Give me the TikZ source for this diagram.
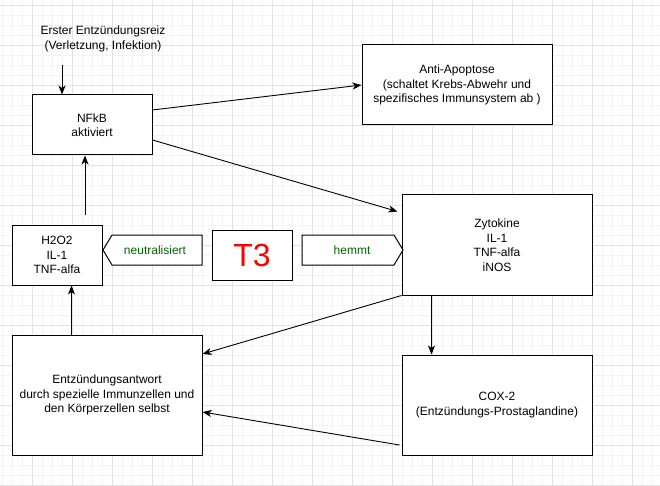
\documentclass[tikz,border=0pt]{standalone}
\usepackage{fontspec}
\setmainfont{Liberation Sans}
\usetikzlibrary{arrows.meta}
\definecolor{gridminor}{HTML}{F3F3F3}
\definecolor{gridmajor}{HTML}{E3E3E3}
\definecolor{lblgreen}{HTML}{006600}
\begin{document}
\begin{tikzpicture}[x=1pt,y=-1pt, line width=1pt,
  box/.style={draw, fill=white, align=center, inner sep=0pt,
    font=\fontsize{12}{14.5}\selectfont},
  txt/.style={align=center, inner sep=0pt, font=\fontsize{12}{14.5}\selectfont},
  arr/.style={-{Stealth[length=9pt,width=7pt,inset=2.5pt]}, line width=0.9pt},
  minorline/.style={draw=gridminor, line width=0.8pt},
  majorline/.style={draw=gridmajor, line width=0.8pt}
]
\useasboundingbox (0,0) rectangle (660,486);
\fill[white] (0,0) rectangle (660,486);
% grid
\foreach \x in {2,12,...,652} \draw[minorline] (\x,0) -- (\x,486);
\foreach \y in {5,15,...,485} \draw[minorline] (0,\y) -- (660,\y);
\foreach \x in {32,72,...,632} \draw[majorline] (\x,0) -- (\x,486);
\foreach \y in {5,45,...,485} \draw[majorline] (0,\y) -- (660,\y);

% nodes
\node[txt] (erster) at (103,39) {Erster Entzündungsreiz\\(Verletzung, Infektion)};
\node[box, minimum width=120pt, minimum height=60pt] (nfkb) at (92,125) {NFkB\\aktiviert};
\node[box, minimum width=190pt, minimum height=80pt] (anti) at (457,85) {Anti-Apoptose\\(schaltet Krebs-Abwehr und\\spezifisches Immunsystem ab )};
\node[box, minimum width=190pt, minimum height=100pt] (zyto) at (497,245) {Zytokine\\IL-1\\TNF-alfa\\iNOS};
\node[box, minimum width=190pt, minimum height=100pt] (cox) at (497,405) {COX-2\\(Entzündungs-Prostaglandine)};
\node[box, minimum width=190pt, minimum height=120pt] (entz) at (107,395) {Entzündungsantwort\\durch spezielle Immunzellen und\\den Körperzellen selbst};
\node[box, minimum width=90pt, minimum height=60pt] (h2o2) at (57,255) {H2O2\\IL-1\\TNF-alfa};
\node[box, minimum width=80pt, minimum height=50pt, text=red, font=\fontsize{32}{36}\selectfont] (t3) at (252,255) {T3};

% arrow-shaped labels
\draw[fill=white] (112,235) -- (202,235) -- (202,265) -- (112,265) -- (103,250) -- cycle;
\node[txt, text=lblgreen] (neut) at (155,250) {neutralisiert};
\draw[fill=white] (302,235) -- (394,235) -- (403,250) -- (394,265) -- (302,265) -- cycle;
\node[txt, text=lblgreen] (hemmt) at (352,250) {hemmt};

% connectors
\coordinate (e1) at (62,65);
\draw[arr] (e1) -- (e1 |- nfkb.north);
\draw[arr] ([yshift=15pt]nfkb.east) -- (anti.west);
\coordinate (zt) at ([xshift=-4pt,yshift=-17pt]zyto.north west);
\draw[arr] ([yshift=-15pt]nfkb.east) -- (zt);
\draw[arr] (zyto.south west) -- ([yshift=41pt]entz.east);
\draw[arr] ([xshift=-2pt,yshift=-40pt]cox.west) -- ([yshift=-17pt]entz.east);
\draw[arr] ([xshift=30pt]zyto.south west) -- ([xshift=30pt]cox.north west);
\draw[arr] ([xshift=60pt]entz.north west) -- ([xshift=60pt]h2o2.south west);
\coordinate (hn) at (85,215);
\draw[arr] (hn) -- (hn |- nfkb.south);
\end{tikzpicture}
\end{document}
